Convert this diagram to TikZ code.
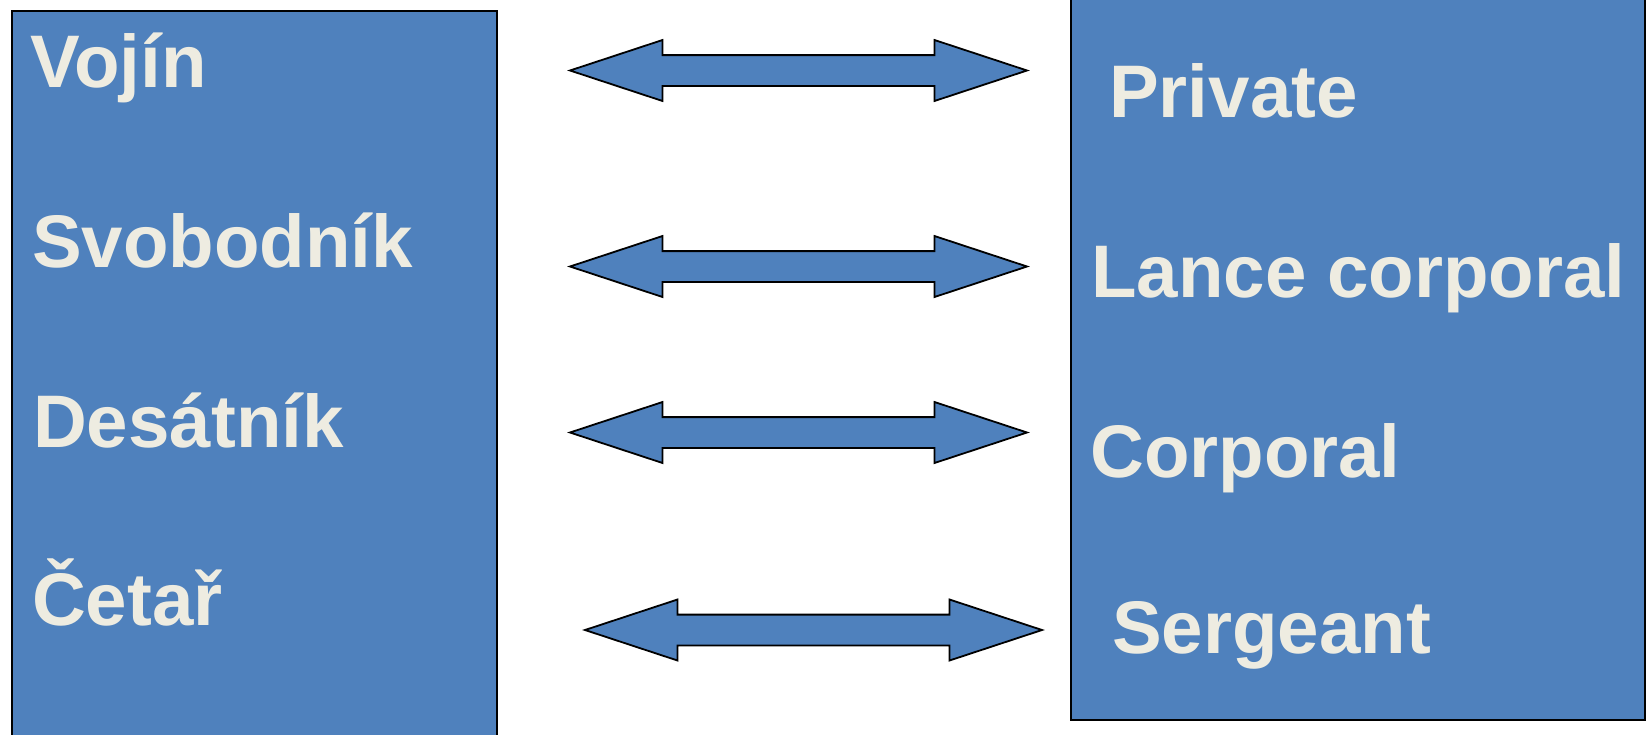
\documentclass[tikz,border=0pt]{standalone}
\usepackage{fontspec}
\setmainfont{Liberation Sans}
\definecolor{boxblue}{HTML}{4F81BD}
\definecolor{cream}{HTML}{EEECE1}
\tikzset{
  panel/.style={draw=black, line width=2pt, fill=boxblue, rectangle, inner sep=0pt},
  rank/.style={anchor=base west, inner sep=0pt, text=cream, font=\bfseries\fontsize{74.5}{90}\selectfont},
  arrowbody/.style={draw=black, line width=1.8pt, fill=boxblue, line join=miter},
  darrow/.pic={
    \path[arrowbody] (-228.5,0) -- (-136,-30.5) -- (-136,-15.4) -- (136,-15.4) -- (136,-30.5)
      -- (228.5,0) -- (136,30.5) -- (136,15.4) -- (-136,15.4) -- (-136,30.5) -- cycle;
  }
}
\begin{document}
\begin{tikzpicture}[x=1pt, y=-1pt]
\useasboundingbox (0,0) rectangle (1651,734);
\clip (0,0) rectangle (1651,734);
% panels
\node[panel, minimum width=485pt, minimum height=740pt, anchor=north west] (leftpanel) at (10.5,10) {};
\node[panel, minimum width=574pt, minimum height=740pt, anchor=south west] (rightpanel) at (1070,721) {};
% Czech ranks
\node[rank] (vojin) at (30,87) {Vojín};
\node[rank] (svobodnik) at (32,267) {Svobodník};
\node[rank] (desatnik) at (33,447) {Desátník};
\node[rank] (cetar) at (32,625) {Četař};
% English ranks
\node[rank] (private) at (1109,117) {Private};
\node[rank] (lance) at (1091,297) {Lance corporal};
\node[rank] (corporal) at (1090,477) {Corporal};
\node[rank] (sergeant) at (1112,653) {Sergeant};
% double arrows
\pic at (798.5,70.5) {darrow};
\pic at (798.5,266.5) {darrow};
\pic at (798.5,432.5) {darrow};
\pic at (813.5,630) {darrow};
\end{tikzpicture}
\end{document}
